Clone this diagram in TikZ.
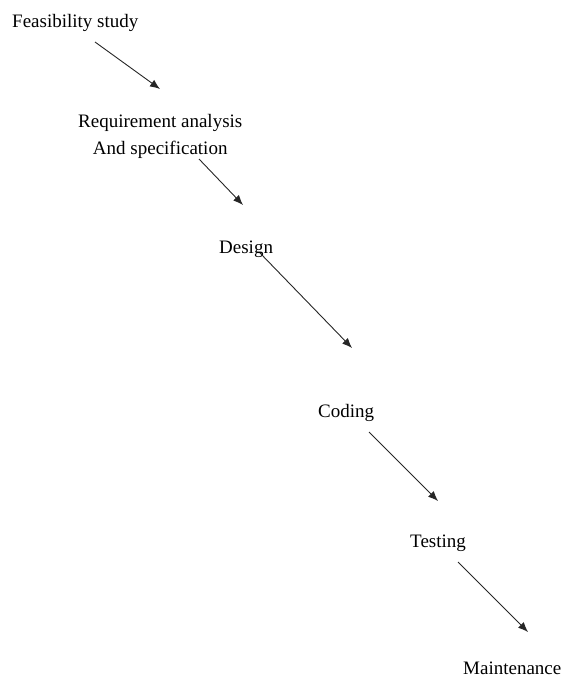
\documentclass[tikz,border=0pt]{standalone}
\usepackage{fontspec}
\setmainfont{Liberation Serif}
\usetikzlibrary{arrows.meta}
\begin{document}
\begin{tikzpicture}[x=1pt,y=-1pt]

\tikzstyle{phase} = [inner sep=0pt, anchor=base west, align=center, font=\fontsize{19}{28}\selectfont]
\tikzstyle{arrow} = [line width=0.9pt, black!85, -{Latex[length=10pt,width=8pt]}]

\useasboundingbox (0,0) rectangle (566,679);

% Nodes
\node (feas) [phase] at (12,28) {Feasibility study};
\node (req) [phase] at (78,155) {Requirement analysis\\And specification};
\node (design) [phase] at (219,253) {Design};
\node (coding) [phase] at (318,417) {Coding};
\node (testing) [phase] at (410,547) {Testing};
\node (maint) [phase] at (463,674) {Maintenance};

% Arrow ends
\coordinate (f1) at (95,42);   \coordinate (r1) at (160,89);
\coordinate (r2) at (199,159); \coordinate (d1) at (243,205);
\coordinate (d2) at (260,253); \coordinate (c1) at (352,348);
\coordinate (c2) at (369,432); \coordinate (t1) at (438,501);
\coordinate (t2) at (458,562); \coordinate (m1) at (528,632);

% Arrows
\draw [arrow] (f1) -- (r1);
\draw [arrow] (r2) -- (d1);
\draw [arrow] (d2) -- (c1);
\draw [arrow] (c2) -- (t1);
\draw [arrow] (t2) -- (m1);

\end{tikzpicture}
\end{document}
